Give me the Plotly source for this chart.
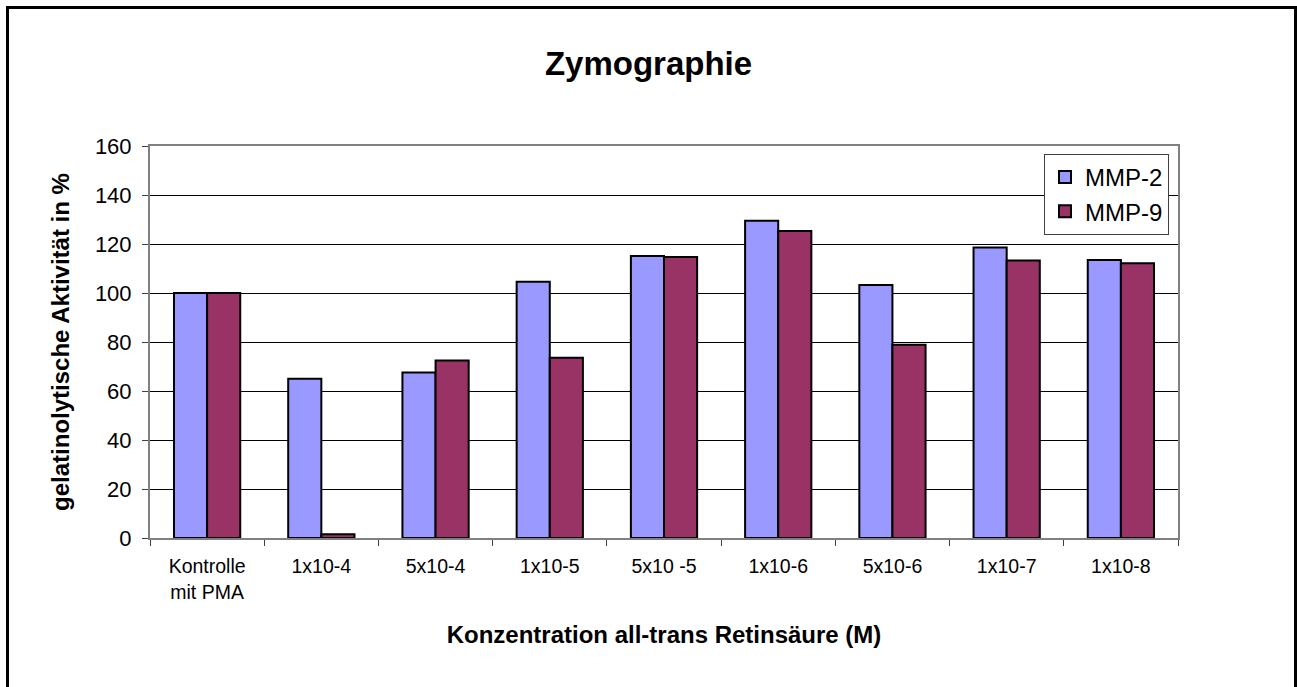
import plotly.graph_objects as go

categories = ["Kontrolle<br>mit PMA", "1x10-4", "5x10-4", "1x10-5", "5x10 -5",
              "1x10-6", "5x10-6", "1x10-7", "1x10-8"]
mmp2 = [100, 65, 67.6, 104.6, 115.1, 129.5, 103.3, 118.6, 113.5]
mmp9 = [100, 1.5, 72.4, 73.6, 114.7, 125.3, 78.9, 113.3, 112.1]

W, H = 1297, 687
L, R, T, B = 150, 119, 146, 149
pw, ph = W - L - R, H - T - B


def px(x):
    return (x - L) / pw


def py(y):
    return (H - B - y) / ph


FONT = "Liberation Sans, Arial, sans-serif"

fig = go.Figure()
fig.add_trace(go.Bar(x=categories, y=mmp2, name="MMP-2",
                     marker=dict(color="#9999FF", line=dict(color="black", width=2))))
fig.add_trace(go.Bar(x=categories, y=mmp9, name="MMP-9",
                     marker=dict(color="#993366", line=dict(color="black", width=2))))

fig.update_layout(
    width=W, height=H,
    margin=dict(l=L, r=R, t=T, b=B, autoexpand=False),
    paper_bgcolor="white", plot_bgcolor="white",
    font=dict(family=FONT, color="black"),
    barmode="group", bargap=0.42, bargroupgap=0,
    title=dict(text="<b>Zymographie</b>", x=0.5, xanchor="center",
               y=1 - 63 / H, yanchor="middle", font=dict(size=33)),
    legend=dict(x=px(1169), xanchor="right", y=py(154), yanchor="top",
                bgcolor="white", bordercolor="#404040", borderwidth=1,
                font=dict(size=24), tracegroupgap=0),
    showlegend=True,
)

fig.update_xaxes(
    type="category", showline=True, linecolor="#808080", linewidth=2, mirror=True,
    ticks="outside", tickson="boundaries", ticklen=6, tickcolor="#404040",
    tickfont=dict(size=19.5), ticklabelstandoff=10, showgrid=False,
    title=dict(text="<b>Konzentration all-trans Retinsäure (M)</b>",
               font=dict(size=24), standoff=24),
    automargin=False,
)
fig.update_yaxes(
    range=[0, 160], dtick=20, showline=True, linecolor="#808080", linewidth=2, mirror=True,
    ticks="outside", ticklen=6, tickcolor="#404040", tickfont=dict(size=22),
    ticklabelstandoff=6,
    showgrid=True, gridcolor="black", gridwidth=1, zeroline=False,
    title=dict(text="<b>gelatinolytische Aktivität in %</b>", font=dict(size=24), standoff=18),
    automargin=False,
)

# outer chart border
fig.add_shape(type="rect", xref="paper", yref="paper",
              x0=px(7.5), x1=px(1295.5), y0=py(692), y1=py(7.5),
              line=dict(color="black", width=3), fillcolor="rgba(0,0,0,0)", layer="above")

fig.write_html("out.html", config={"displayModeBar": False},
               post_script="document.body.style.margin='0';")
